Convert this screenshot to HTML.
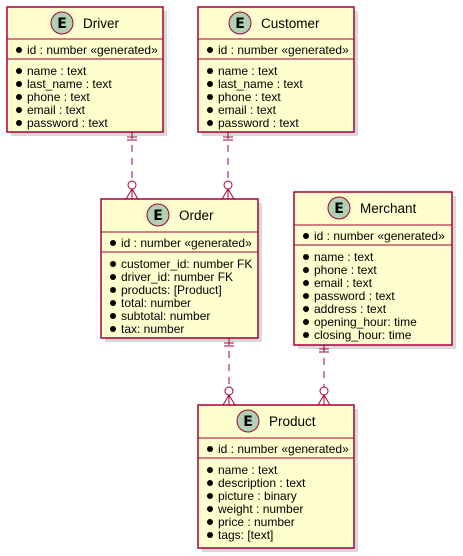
<!DOCTYPE html>
<html><head><meta charset="utf-8"><style>
html,body{margin:0;padding:0;background:#fff;}
svg{display:block;font-family:"Liberation Sans","DejaVu Sans",sans-serif;}
.b{fill:#FEFECE;stroke:#A80036;stroke-width:1.5;}
.s{fill:#000;opacity:0.15;}
.l{stroke:#A80036;stroke-width:1;}
.t{font-size:13.5px;fill:#000;}
.r{font-size:12px;fill:#000;}
.c{fill:#ADD1B2;stroke:#A80036;stroke-width:1;}
.e{font-size:14px;font-weight:bold;fill:#000;font-family:"DejaVu Sans",sans-serif;}
.d{stroke:#A80036;stroke-width:1;stroke-dasharray:7,6;fill:none;}
.k{stroke:#A80036;stroke-width:1;fill:none;}
.w{stroke:#A80036;stroke-width:1;fill:#fff;}
</style></head><body>
<svg width="463" height="556" viewBox="0 0 463 556" xmlns="http://www.w3.org/2000/svg">
<rect class="s" x="11" y="11" width="156" height="125"/>
<rect class="s" x="202" y="11" width="156" height="125"/>
<rect class="s" x="105" y="203" width="157" height="139"/>
<rect class="s" x="298" y="196" width="158" height="153"/>
<rect class="s" x="202" y="409" width="156" height="143"/>

<g>
<line class="d" x1="132" y1="132" x2="132" y2="181"/>
<line class="k" x1="127" y1="137" x2="137" y2="137"/><line class="k" x1="127" y1="140" x2="137" y2="140"/>
<path class="k" d="M132 189 L126 199 M132 189 L132 199 M132 189 L138 199"/>
<circle class="w" cx="132" cy="185" r="4"/>

<line class="d" x1="228" y1="132" x2="228" y2="181"/>
<line class="k" x1="223" y1="137" x2="233" y2="137"/><line class="k" x1="223" y1="140" x2="233" y2="140"/>
<path class="k" d="M228 189 L222 199 M228 189 L228 199 M228 189 L234 199"/>
<circle class="w" cx="228" cy="185" r="4"/>

<line class="d" x1="229" y1="338" x2="229" y2="387"/>
<line class="k" x1="224" y1="343" x2="234" y2="343"/><line class="k" x1="224" y1="346" x2="234" y2="346"/>
<path class="k" d="M229 395 L223 405 M229 395 L229 405 M229 395 L235 405"/>
<circle class="w" cx="229" cy="391" r="4"/>

<line class="d" x1="324" y1="345" x2="324" y2="387"/>
<line class="k" x1="319" y1="349" x2="329" y2="349"/><line class="k" x1="319" y1="352" x2="329" y2="352"/>
<path class="k" d="M324 395 L318 405 M324 395 L324 405 M324 395 L330 405"/>
<circle class="w" cx="324" cy="391" r="4"/>
</g>

<rect class="b" x="7" y="7" width="156" height="125"/>
<line class="l" x1="7" y1="39" x2="163" y2="39"/><line class="l" x1="7" y1="59" x2="163" y2="59"/>
<circle class="c" cx="62" cy="23" r="11"/><text class="e" x="62" y="28" text-anchor="middle">E</text>
<text class="t" x="83" y="28">Driver</text>
<g class="r">
<circle cx="19" cy="50" r="3"/><text x="27" y="54">id : number «generated»</text>
<circle cx="19" cy="71" r="3"/><text x="27" y="75">name : text</text>
<circle cx="19" cy="84" r="3"/><text x="27" y="88">last_name : text</text>
<circle cx="19" cy="97" r="3"/><text x="27" y="101">phone : text</text>
<circle cx="19" cy="110" r="3"/><text x="27" y="114">email : text</text>
<circle cx="19" cy="123" r="3"/><text x="27" y="127">password : text</text>
</g>

<rect class="b" x="198" y="7" width="156" height="125"/>
<line class="l" x1="198" y1="39" x2="354" y2="39"/><line class="l" x1="198" y1="59" x2="354" y2="59"/>
<circle class="c" cx="240" cy="23" r="11"/><text class="e" x="240" y="28" text-anchor="middle">E</text>
<text class="t" x="261" y="28">Customer</text>
<g class="r">
<circle cx="210" cy="50" r="3"/><text x="218" y="54">id : number «generated»</text>
<circle cx="210" cy="71" r="3"/><text x="218" y="75">name : text</text>
<circle cx="210" cy="84" r="3"/><text x="218" y="88">last_name : text</text>
<circle cx="210" cy="97" r="3"/><text x="218" y="101">phone : text</text>
<circle cx="210" cy="110" r="3"/><text x="218" y="114">email : text</text>
<circle cx="210" cy="123" r="3"/><text x="218" y="127">password : text</text>
</g>

<rect class="b" x="101" y="199" width="157" height="139"/>
<line class="l" x1="101" y1="232" x2="258" y2="232"/><line class="l" x1="101" y1="252" x2="258" y2="252"/>
<circle class="c" cx="158" cy="215" r="11"/><text class="e" x="158" y="220" text-anchor="middle">E</text>
<text class="t" x="179" y="220">Order</text>
<g class="r">
<circle cx="113" cy="243" r="3"/><text x="121" y="247">id : number «generated»</text>
<circle cx="113" cy="264" r="3"/><text x="121" y="268">customer_id: number FK</text>
<circle cx="113" cy="277" r="3"/><text x="121" y="281">driver_id: number FK</text>
<circle cx="113" cy="290" r="3"/><text x="121" y="294">products: [Product]</text>
<circle cx="113" cy="303" r="3"/><text x="121" y="307">total: number</text>
<circle cx="113" cy="316" r="3"/><text x="121" y="320">subtotal: number</text>
<circle cx="113" cy="329" r="3"/><text x="121" y="333">tax: number</text>
</g>

<rect class="b" x="294" y="192" width="158" height="153"/>
<line class="l" x1="294" y1="225" x2="452" y2="225"/><line class="l" x1="294" y1="245" x2="452" y2="245"/>
<circle class="c" cx="339" cy="208" r="11"/><text class="e" x="339" y="213" text-anchor="middle">E</text>
<text class="t" x="360" y="213">Merchant</text>
<g class="r">
<circle cx="306" cy="236" r="3"/><text x="314" y="240">id : number «generated»</text>
<circle cx="306" cy="257" r="3"/><text x="314" y="261">name : text</text>
<circle cx="306" cy="270" r="3"/><text x="314" y="274">phone : text</text>
<circle cx="306" cy="283" r="3"/><text x="314" y="287">email : text</text>
<circle cx="306" cy="296" r="3"/><text x="314" y="300">password : text</text>
<circle cx="306" cy="309" r="3"/><text x="314" y="313">address : text</text>
<circle cx="306" cy="322" r="3"/><text x="314" y="326">opening_hour: time</text>
<circle cx="306" cy="335" r="3"/><text x="314" y="339">closing_hour: time</text>
</g>

<rect class="b" x="198" y="405" width="156" height="143"/>
<line class="l" x1="198" y1="438" x2="354" y2="438"/><line class="l" x1="198" y1="458" x2="354" y2="458"/>
<circle class="c" cx="248" cy="421" r="11"/><text class="e" x="248" y="426" text-anchor="middle">E</text>
<text class="t" x="269" y="426">Product</text>
<g class="r">
<circle cx="210" cy="449" r="3"/><text x="218" y="453">id : number «generated»</text>
<circle cx="210" cy="470" r="3"/><text x="218" y="474">name : text</text>
<circle cx="210" cy="483" r="3"/><text x="218" y="487">description : text</text>
<circle cx="210" cy="496" r="3"/><text x="218" y="500">picture : binary</text>
<circle cx="210" cy="509" r="3"/><text x="218" y="513">weight : number</text>
<circle cx="210" cy="522" r="3"/><text x="218" y="526">price : number</text>
<circle cx="210" cy="535" r="3"/><text x="218" y="539">tags: [text]</text>
</g>
</svg>
</body></html>
